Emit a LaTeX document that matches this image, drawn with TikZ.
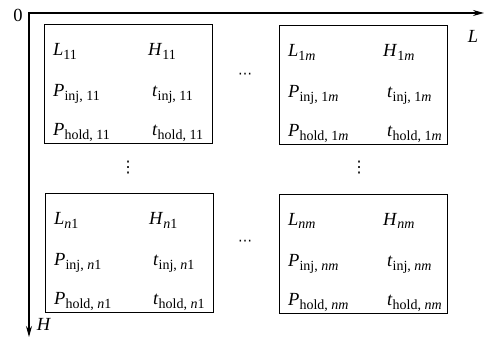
\documentclass[tikz,border=0pt]{standalone}
\usepackage{fontspec}
\setmainfont{Liberation Serif}
\newfontfamily\dotsfont{DejaVu Sans}
\usetikzlibrary{arrows.meta}
\newcommand\VX[2]{\textit{#1}\textsubscript{\fontsize{14}{15}\selectfont #2}}
\tikzset{
  cellbox/.style={draw,line width=1.3pt,minimum width=168pt,minimum height=119pt,anchor=north west,inner sep=0pt},
  txt/.style={anchor=base west,inner sep=0pt,font=\fontsize{18.5}{20}\selectfont},
  axis/.style={line width=1.3pt,-{Stealth[length=11pt,width=6pt]}},
  lbl/.style={inner sep=1pt,font=\fontsize{18.5}{20}\selectfont},
  dotlbl/.style={inner sep=0pt,font=\dotsfont\fontsize{14}{15}\selectfont}
}
\newcommand\cellnode[4]{%
  \node[cellbox] (#1) at (#2,#3) {};
  \node[txt] (#1L) at ([xshift=9pt,yshift=-32pt]#1.north west) {\VX{L}{#4}};
  \node[txt] (#1H) at ([xshift=104pt,yshift=-32pt]#1.north west) {\VX{H}{#4}};
  \node[txt] (#1P) at ([xshift=9pt,yshift=-73pt]#1.north west) {\VX{P}{inj, #4}};
  \node[txt] (#1t) at ([xshift=108pt,yshift=-73pt]#1.north west) {\VX{t}{inj, #4}};
  \node[txt] (#1Q) at ([xshift=9pt,yshift=-112pt]#1.north west) {\VX{P}{hold, #4}};
  \node[txt] (#1u) at ([xshift=108pt,yshift=-112pt]#1.north west) {\VX{t}{hold, #4}};
}
\begin{document}
\begin{tikzpicture}[x=1pt,y=-1pt]
\useasboundingbox (0,0) rectangle (488,352);
\coordinate (O) at (29,13);
\coordinate (Lend) at (484,13);
\coordinate (Hend) at (29,337);
\draw[axis] ([xshift=-0.65pt]O) -- (Lend);
\draw[axis] (O) -- (Hend);
\node[lbl] (zero) at (18,15) {0};
\node[lbl] (Llbl) at (473,36) {\textit{L}};
\node[lbl] (Hlbl) at (44,324) {\textit{H}};
\cellnode{a}{44}{24}{11}
\cellnode{b}{279}{25}{1\textit{m}}
\cellnode{c}{45}{193}{\textit{n}1}
\cellnode{d}{279}{194}{\textit{nm}}
\node[dotlbl] (h1) at (245,76) {⋯};
\node[dotlbl] (h2) at (245,243) {⋯};
\node[dotlbl,font=\dotsfont\fontsize{16}{17}\selectfont] (v1) at (128,168) {⋮};
\node[dotlbl,font=\dotsfont\fontsize{16}{17}\selectfont] (v2) at (359,168) {⋮};
\end{tikzpicture}
\end{document}
